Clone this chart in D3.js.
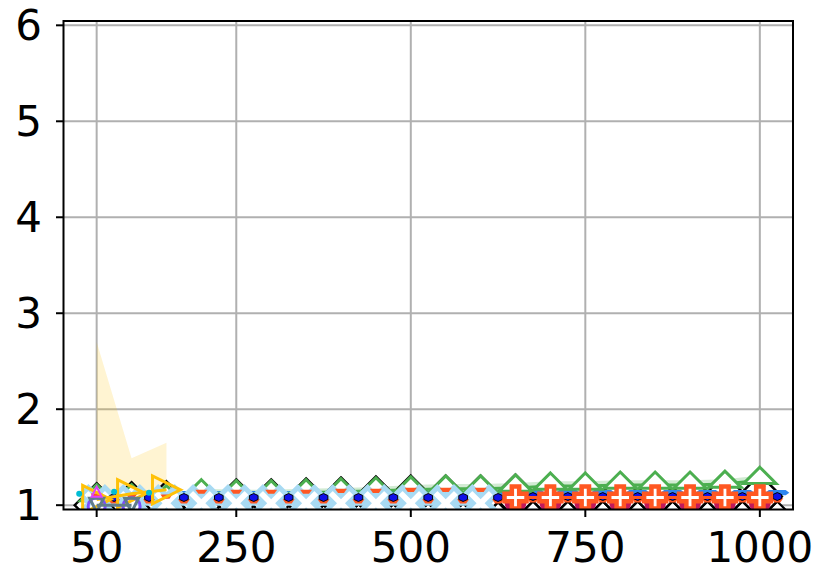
<!DOCTYPE html>
<html><head><meta charset="utf-8">
<script src="https://cdn.jsdelivr.net/npm/d3@7"></script>
<style>html,body{margin:0;padding:0;background:#fff;}svg{display:block;}</style>
</head><body><div id="chart"></div>
<script>
// ---------- data ----------
const xTicks = [50, 250, 500, 750, 1000];
const yTicks = [1, 2, 3, 4, 5, 6];
const xMain = [50,100,150,200,250,300,350,400,450,500,550,600,650,700,750,800,850,900,950,1000];
const xMid  = [75,125,175,225,275,325,375,425,475,525,575,625,675,725,775,825,875,925,975,1025];

const blackMain = [1.00,1.01,1.02,1.03,1.04,1.04,1.05,1.06,1.07,1.08,1.08,1.08,1.09,1.09,1.09,1.09,1.09,1.09,1.09,1.09];
const blackLow  = [0.78,0.78,0.78,0.78,0.78,0.78,0.78,0.79,0.79,0.80,0.80,0.81,0.82,0.82,0.82,0.82,0.82,0.82,0.82,0.82];
const greenVals = [1.08,1.08,1.07,1.13,1.12,1.12,1.13,1.14,1.15,1.16,1.17,1.17,1.18,1.20,1.20,1.21,1.21,1.21,1.22,1.26];
const greenLo   = [1.06,1.06,1.05,1.11,1.10,1.10,1.11,1.12,1.13,1.14,1.15,1.15,1.16,1.18,1.18,1.19,1.19,1.19,1.20,1.24];
const greenHi   = [1.12,1.12,1.11,1.17,1.16,1.16,1.17,1.18,1.19,1.21,1.22,1.22,1.23,1.25,1.25,1.26,1.26,1.26,1.27,1.31];
const xLightBlue = [50,100,150,200,250,300,350,400,450,500,550,600];
const lightBlueVals = [1.02,1.02,1.02,1.02,1.02,1.02,1.02,1.02,1.02,1.02,1.02,1.02];
const blueWideVals = [1.12,1.12,1.12,1.12,1.12,1.12,1.12,1.12,1.12,1.12,1.12,1.12,1.13,1.13,1.13,1.13,1.13,1.13,1.13,1.13];
const blueDotVals  = [1.08,1.08,1.08,1.08,1.08,1.08,1.08,1.08,1.08,1.08,1.08,1.08,1.09,1.09,1.09,1.09,1.09,1.09,1.09,1.09];
const orangeMainVals = [1.10,1.10,1.09,1.14,1.14,1.14,1.14,1.15,1.15,1.16,1.16,1.16,1.16,1.17,1.17,1.17,1.17,1.17,1.17,1.18];
const orangeMidVals  = [1.04,1.04,1.04,1.04,1.04,1.04,1.04,1.04,1.04,1.04,1.04,1.04,1.05,1.05,1.05,1.05,1.05,1.05,1.05,1.05];
const xRed = [650,700,750,800,850,900,950,1000];
const redVals  = [1.08,1.08,1.08,1.08,1.08,1.08,1.08,1.08];
const crimsonVals = [1.03,1.03,1.03,1.03,1.03,1.03,1.03,1.03];
const xYellow = [50,100,150];
const yellowVals = [1.06,1.12,1.16];
const yellowLo = [1.00,1.00,1.00];
const yellowHi = [2.70,1.49,1.65];
const xPurple = [50,100];
const purpleVals = [0.99,0.99];
const xGray = [50,100];
const grayVals = [1.00,1.00];
const xCyan = [25,75,125];
const cyanVals = [1.12,1.14,1.13];
const xMagenta = [50];
const magentaVals = [1.14];

// ---------- layout ----------
const W = 830, H = 581;
const L = 63.5, R = 793, T = 21, B = 509.5;
const svg = d3.select("#chart").append("svg").attr("width", W).attr("height", H);
const x = d3.scaleLinear().domain([2.5, 1047.5]).range([L, R]);
const y = d3.scaleLinear().domain([0.955, 6.045]).range([B, T]);

svg.append("defs").append("clipPath").attr("id","clip")
  .append("rect").attr("x",L).attr("y",T).attr("width",R-L).attr("height",B-T);

// grid
const grid = svg.append("g");
xTicks.forEach(t => grid.append("line").attr("x1",x(t)).attr("x2",x(t)).attr("y1",T).attr("y2",B)
  .attr("stroke","#b0b0b0").attr("stroke-width",2));
yTicks.forEach(t => grid.append("line").attr("x1",L).attr("x2",R).attr("y1",y(t)).attr("y2",y(t))
  .attr("stroke","#b0b0b0").attr("stroke-width",2));

const plot = svg.append("g").attr("clip-path","url(#clip)");

function pts(xs, vs){ return xs.map((d,i)=>[d, vs[i]]); }
const line = d3.line().x(d=>x(d[0])).y(d=>y(d[1]));
function band(xs, lo, hi, color, op){
  const area = d3.area().x((d,i)=>x(xs[i])).y0((d,i)=>y(lo[i])).y1((d,i)=>y(hi[i]));
  plot.append("path").datum(xs).attr("d", area).attr("fill", color).attr("fill-opacity", op).attr("stroke","none");
}
function polyPath(p){ return "M" + p.map(q=>q[0].toFixed(2)+","+q[1].toFixed(2)).join("L") + "Z"; }
function plusPts(r, w, rot){
  const p = [[-w,-r],[w,-r],[w,-w],[r,-w],[r,w],[w,w],[w,r],[-w,r],[-w,w],[-r,w],[-r,-w],[-w,-w]];
  const c = Math.cos(rot), s = Math.sin(rot);
  return p.map(q=>[q[0]*c - q[1]*s, q[0]*s + q[1]*c]);
}
const shapes = {
  diamond: r => polyPath([[0,-r],[r,0],[0,r],[-r,0]]),
  triUp: r => polyPath([[0,-r],[r,r],[-r,r]]),
  greenTri: r => polyPath([[0,-r],[1.25*r,0.25*r],[-1.25*r,0.25*r]]),
  triDown: r => polyPath([[0,r],[r,-r],[-r,-r]]),
  wedge: r => polyPath([[-r,-0.35*r],[r,-0.35*r],[0.5*r,0.35*r],[-0.5*r,0.35*r]]),
  wideHex: r => polyPath([[-r,0],[-0.7*r,-0.22*r],[0.7*r,-0.22*r],[r,0],[0.7*r,0.22*r],[-0.7*r,0.22*r]]),
  triRight: r => polyPath([[r,0],[-r,-r],[-r,r]]),
  plus: r => polyPath(plusPts(r, r/3, 0)),
  xmark: r => polyPath(plusPts(r, r/3.2, Math.PI/4)),
  hex: r => polyPath(d3.range(6).map(i=>[r*Math.cos(Math.PI/6+i*Math.PI/3), 0.8*r*Math.sin(Math.PI/6+i*Math.PI/3)])),
  circle: r => `M${-r},0A${r},${r} 0 1,0 ${r},0A${r},${r} 0 1,0 ${-r},0Z`
};
function markers(xs, vs, shape, r, fill, stroke, sw){
  plot.append("g").selectAll("path").data(pts(xs, vs)).join("path")
    .attr("transform", d=>`translate(${x(d[0])},${y(d[1])})`)
    .attr("d", shapes[shape](r)).attr("fill", fill).attr("stroke", stroke)
    .attr("stroke-width", sw).attr("stroke-linejoin","miter");
}
function drawLine(xs, vs, color, sw){
  plot.append("path").datum(pts(xs, vs)).attr("d", line).attr("fill","none")
    .attr("stroke", color).attr("stroke-width", sw).attr("stroke-linejoin","round");
}

// bands
band(xYellow, yellowLo, yellowHi, "#FFC107", 0.18);
band(xMain, greenLo, greenHi, "#4CAF50", 0.25);

// low black diamonds (mostly below the axis)
markers(xMid, blackLow, "diamond", 21, "#fff", "#000", 2.2);
// main black diamonds
drawLine(xMain, blackMain, "#000", 2);
markers(xMain, blackMain, "diamond", 22, "#fff", "#000", 2.4);

// medium blue thin marks between
markers(xMid, blueWideVals, "wideHex", 12, "#2E86F0", "none", 0);

// green triangles
drawLine(xMain, greenVals, "#4CAF50", 3);
markers(xMain, greenVals, "greenTri", 13, "#fff", "#4CAF50", 3);

// light blue X markers
drawLine(xLightBlue, lightBlueVals, "#A8DAF3", 5);
markers(xLightBlue, lightBlueVals, "xmark", 17, "#fff", "#A8DAF3", 5);

// small orange marks
markers(xMain, orangeMainVals, "wedge", 6, "#FF5722", "none", 0);
markers(xMid, orangeMidVals, "wedge", 6, "#FF5722", "none", 0);

// blue dots
markers(xMid, blueDotVals, "hex", 5, "#1010E8", "#000", 1);

// crimson + red plus
markers(xRed, crimsonVals, "circle", 11, "#C2185B", "none", 0);
drawLine(xRed, redVals, "#FF5722", 3);
markers(xRed, redVals, "plus", 11, "#fff", "#FF5722", 4.5);

// yellow
drawLine(xYellow, yellowVals, "#FFC107", 3);
markers(xYellow, yellowVals, "triRight", 14, "none", "#FFC107", 3);

// purple circles + gray
markers(xPurple, purpleVals, "circle", 8.5, "none", "#7C4DFF", 3);
drawLine(xGray, grayVals, "#607D8B", 3);
markers(xGray, grayVals, "triDown", 7, "none", "#607D8B", 3);

// cyan + magenta
markers(xCyan, cyanVals, "circle", 3, "#00BCD4", "none", 0);
markers(xMagenta, magentaVals, "triUp", 5, "none", "#E040FB", 2);

// spines
const ax = svg.append("g");
ax.append("rect").attr("x",L).attr("y",T).attr("width",R-L).attr("height",B-T)
  .attr("fill","none").attr("stroke","#000").attr("stroke-width",2);

// ticks + labels
xTicks.forEach(t => {
  ax.append("line").attr("x1",x(t)).attr("x2",x(t)).attr("y1",B).attr("y2",B+7.5).attr("stroke","#000").attr("stroke-width",2);
  ax.append("text").attr("x",x(t)).attr("y",562).attr("text-anchor","middle")
    .attr("font-family","DejaVu Sans").attr("font-size",42).attr("fill","#000").text(t);
});
yTicks.forEach(t => {
  ax.append("line").attr("x1",L-7.5).attr("x2",L).attr("y1",y(t)).attr("y2",y(t)).attr("stroke","#000").attr("stroke-width",2);
  ax.append("text").attr("x",42).attr("y",y(t)).attr("dy","0.36em").attr("text-anchor","end")
    .attr("font-family","DejaVu Sans").attr("font-size",42).attr("fill","#000").text(t);
});
</script></body></html>
